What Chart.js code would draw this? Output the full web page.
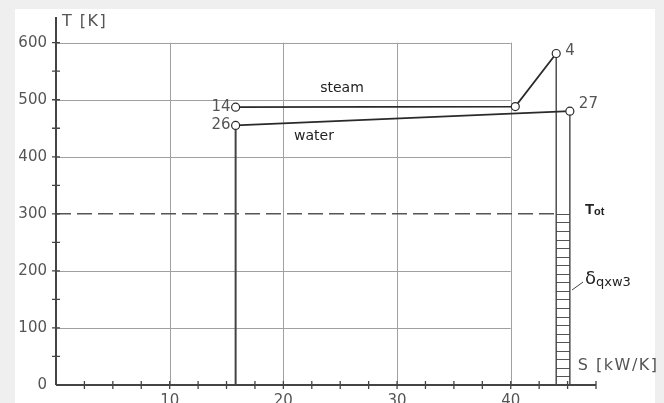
<!DOCTYPE html>
<html>
<head>
<meta charset="utf-8">
<script src="https://cdn.jsdelivr.net/npm/chart.js@4"></script>
<style>
  html, body { margin: 0; padding: 0; background: #efefef; }
  #wrap { position: relative; width: 664px; height: 403px; overflow: hidden; }
  #paper { position: absolute; left: 15px; top: 9px; width: 640px; height: 394px; background: #fff; }
  #myChart { position: absolute; left: 0; top: 0; }
</style>
</head>
<body>
<div id="wrap">
  <div id="paper"></div>
  <canvas id="myChart" width="664" height="403"></canvas>
</div>
<script>
// state points (S in kW/K, T in K)
const steamS = [15.8, 40.4, 44.0];
const steamT = [487, 488, 581];
const steamNames = ['14', '', '4'];
const waterS = [15.8, 45.2];
const waterT = [455, 480];
const waterNames = ['26', '27'];

const gridS = [10, 20, 30, 40];
const gridT = [100, 200, 300, 400, 500, 600];
const xTickLabels = [10, 20, 30, 40];
const yTickLabels = [0, 100, 200, 300, 400, 500, 600];
const xMinorStep = 2.5;
const yMinorStep = 50;
const ambientT = 300;   // T_ot
const hatchStep = 15;

const AXIS = '#444';
const GRID = '#a0a0a0';
const INK = '#2a2a2a';
const LABEL = '#555';

function pts(xs, ys) {
  return xs.map((x, i) => ({ x: x, y: ys[i] }));
}

// drop lines from state points 26, 4 and 27 to T = 0
const drops = [
  [waterS[0], waterT[0], 2],
  [steamS[2], steamT[2], 1.4],
  [waterS[1], waterT[1], 1.4]
];

const datasets = [
  {
    label: 'steam',
    data: pts(steamS, steamT),
    showLine: true,
    borderColor: INK,
    borderWidth: 1.8,
    pointRadius: 4,
    pointBackgroundColor: '#fff',
    pointBorderColor: INK,
    pointBorderWidth: 1.2
  },
  {
    label: 'water',
    data: pts(waterS, waterT),
    showLine: true,
    borderColor: INK,
    borderWidth: 1.8,
    pointRadius: 4,
    pointBackgroundColor: '#fff',
    pointBorderColor: INK,
    pointBorderWidth: 1.2
  },
  {
    label: 'Tot',
    data: [{ x: 0, y: ambientT }, { x: steamS[2], y: ambientT }],
    showLine: true,
    borderColor: '#555',
    borderWidth: 1.5,
    borderDash: [15, 6],
    pointRadius: 0
  }
];

drops.forEach(([s, t, w]) => {
  datasets.push({
    label: 'drop',
    data: [{ x: s, y: t }, { x: s, y: 0 }],
    showLine: true,
    borderColor: '#444',
    borderWidth: w,
    pointRadius: 0
  });
});

const diagramPlugin = {
  id: 'tsDiagram',
  beforeDatasetsDraw(chart) {
    const ctx = chart.ctx;
    const xs = chart.scales.x;
    const ys = chart.scales.y;
    ctx.save();
    ctx.strokeStyle = GRID;
    ctx.lineWidth = 1;
    gridS.forEach((s) => {
      const px = Math.round(xs.getPixelForValue(s)) + 0.5;
      ctx.beginPath();
      ctx.moveTo(px, ys.getPixelForValue(0));
      ctx.lineTo(px, ys.getPixelForValue(600));
      ctx.stroke();
    });
    gridT.forEach((t) => {
      if (t === ambientT) return;
      const py = Math.round(ys.getPixelForValue(t)) + 0.5;
      ctx.beginPath();
      ctx.moveTo(xs.getPixelForValue(0), py);
      ctx.lineTo(xs.getPixelForValue(40), py);
      ctx.stroke();
    });

    // hatched heat flow between the two drop lines below T_ot
    ctx.strokeStyle = '#555';
    ctx.lineWidth = 1;
    const hx0 = xs.getPixelForValue(steamS[2]);
    const hx1 = xs.getPixelForValue(waterS[1]);
    for (let t = ambientT; t > 0; t -= hatchStep) {
      const py = Math.round(ys.getPixelForValue(t)) + 0.5;
      ctx.beginPath();
      ctx.moveTo(hx0, py);
      ctx.lineTo(hx1, py);
      ctx.stroke();
    }
    ctx.restore();
  },
  afterDatasetsDraw(chart) {
    const ctx = chart.ctx;
    const xs = chart.scales.x;
    const ys = chart.scales.y;
    const x0 = xs.getPixelForValue(0);
    const y0 = ys.getPixelForValue(0);
    ctx.save();

    // axes
    ctx.strokeStyle = AXIS;
    ctx.lineWidth = 2;
    ctx.beginPath();
    ctx.moveTo(x0, y0);
    ctx.lineTo(x0, ys.getPixelForValue(ys.max));
    ctx.moveTo(x0, y0);
    ctx.lineTo(xs.getPixelForValue(xs.max), y0);
    ctx.stroke();

    // ticks
    ctx.lineWidth = 1.3;
    ctx.beginPath();
    for (let t = yMinorStep; t <= 600; t += yMinorStep) {
      const py = ys.getPixelForValue(t);
      ctx.moveTo(x0 - 4, py);
      ctx.lineTo(x0 + 4, py);
    }
    for (let s = xMinorStep; s <= xs.max + 0.01; s += xMinorStep) {
      const px = xs.getPixelForValue(s);
      ctx.moveTo(px, y0 - 4);
      ctx.lineTo(px, y0 + 4);
    }
    ctx.stroke();

    // tick labels
    ctx.fillStyle = LABEL;
    ctx.font = '15px "DejaVu Sans"';
    ctx.textAlign = 'right';
    ctx.textBaseline = 'middle';
    yTickLabels.forEach((t) => {
      ctx.fillText(String(t), x0 - 9, ys.getPixelForValue(t));
    });
    ctx.textAlign = 'center';
    ctx.textBaseline = 'top';
    xTickLabels.forEach((s) => {
      ctx.fillText(String(s), xs.getPixelForValue(s), y0 + 9);
    });

    // axis titles
    ctx.letterSpacing = '1.5px';
    ctx.textAlign = 'left';
    ctx.textBaseline = 'middle';
    ctx.font = '16px "DejaVu Sans"';
    ctx.fillText('T [K]', x0 + 6, 22);
    ctx.fillText('S [kW/K]', xs.getPixelForValue(waterS[1]) + 8, 366);
    ctx.letterSpacing = '0px';

    // state point numbers
    ctx.font = '15px "DejaVu Sans"';
    ctx.fillStyle = LABEL;
    ctx.textAlign = 'right';
    ctx.fillText(steamNames[0], xs.getPixelForValue(steamS[0]) - 5, ys.getPixelForValue(steamT[0]));
    ctx.fillText(waterNames[0], xs.getPixelForValue(waterS[0]) - 5, ys.getPixelForValue(waterT[0]));
    ctx.textAlign = 'left';
    ctx.fillText(steamNames[2], xs.getPixelForValue(steamS[2]) + 9, ys.getPixelForValue(steamT[2]) - 2);
    ctx.fillText(waterNames[1], xs.getPixelForValue(waterS[1]) + 9, ys.getPixelForValue(waterT[1]) - 7);

    // stream names
    ctx.fillStyle = '#222';
    ctx.font = '14px "DejaVu Sans"';
    ctx.textAlign = 'center';
    ctx.fillText('steam', 342, 88);
    ctx.fillText('water', 314, 136);

    // T_ot
    ctx.textAlign = 'left';
    ctx.textBaseline = 'alphabetic';
    ctx.font = 'bold 15px "Liberation Sans"';
    ctx.fillText('T', 585, 214);
    ctx.font = 'bold 11px "Liberation Sans"';
    ctx.fillText('ot', 594, 215);

    // delta q label with leader
    ctx.font = '18px "DejaVu Sans"';
    ctx.fillText('\u03b4', 585, 284);
    ctx.font = '13px "DejaVu Sans"';
    ctx.fillText('qxw3', 596, 286);
    ctx.strokeStyle = '#444';
    ctx.lineWidth = 1;
    ctx.beginPath();
    ctx.moveTo(572, 290);
    ctx.lineTo(583, 282);
    ctx.stroke();

    ctx.restore();
  }
};

const config = {
  type: 'scatter',
  data: { datasets: datasets },
  plugins: [diagramPlugin],
  options: {
    responsive: false,
    animation: false,
    layout: { padding: { left: 56, right: 68, top: 17, bottom: 18 } },
    elements: { line: { tension: 0 } },
    datasets: { scatter: { clip: false } },
    scales: {
      x: { type: 'linear', min: 0, max: 47.5, display: false },
      y: { type: 'linear', min: 0, max: 645, display: false }
    },
    plugins: {
      legend: { display: false },
      tooltip: { enabled: false },
      title: { display: false }
    }
  }
};

new Chart(document.getElementById('myChart'), config);
</script>
</body>
</html>
